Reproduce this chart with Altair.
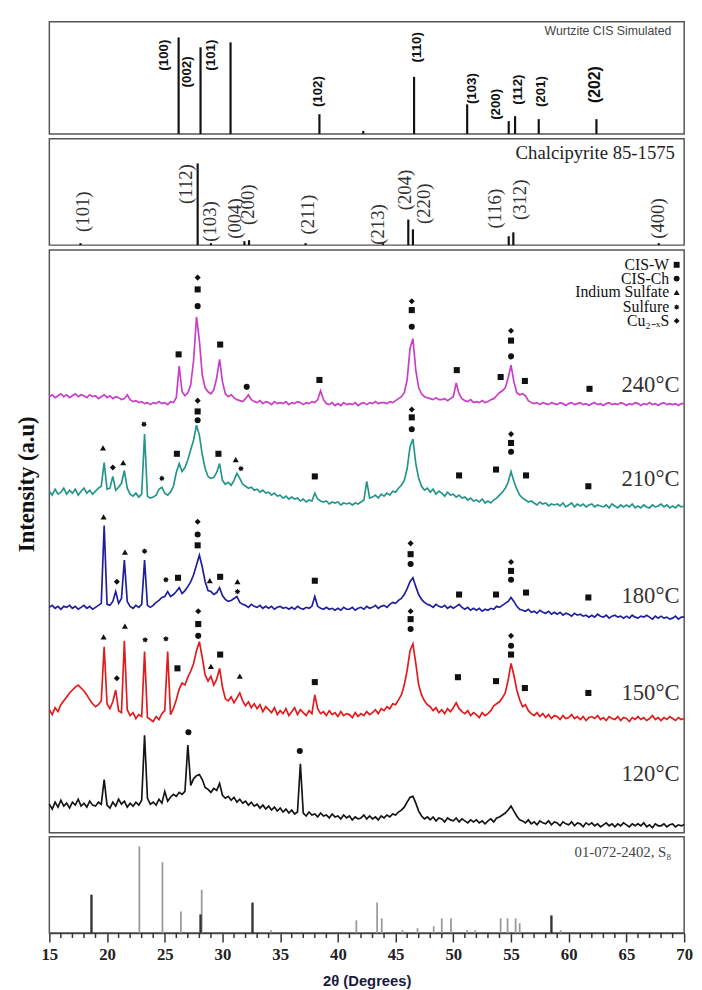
import altair as alt
import pandas as pd

# ---------------- data ----------------
# sampling grid of the measured patterns (2-theta, degrees)
two_theta = [round(15 + 0.25 * i, 2) for i in range(221)]

c240 = [
    443, 445, 442, 444,  446, 443, 445, 442,  444, 446, 443, 445,  444, 442, 445, 443,  # 15-18
    444, 441, 443, 445,  442, 444, 441, 443,  442, 440, 441, 445,  440, 438, 439, 437,  # 19-22
    438, 436, 437, 435,  437, 436, 438, 436,  437, 435, 438, 437,  442, 474, 448, 444,  # 23-26
    447, 455, 480, 524,  500, 465, 452, 448,  446, 450, 462, 481,  458, 446, 443, 445,  # 27-30
    442, 440, 439, 438,  441, 445, 440, 438,  437, 439, 436, 438,  437, 435, 438, 436,  # 31-34
    437, 436, 438, 435,  437, 436, 438, 437,  435, 437, 436, 438,  437, 440, 449, 440,  # 35-38
    436, 435, 437, 434,  436, 434, 437, 435,  436, 435, 437, 434,  436, 437, 435, 437,  # 39-42
    436, 438, 436, 437,  437, 436, 438, 437,  439, 441, 443, 447,  460, 492, 502, 470,  # 43-46
    452, 446, 443, 442,  441, 440, 442, 440,  440, 441, 439, 441,  443, 457, 446, 441,  # 47-50
    439, 438, 440, 437,  438, 437, 439, 437,  438, 440, 441, 444,  447, 449, 452, 462,  # 51-54
    475, 458, 447, 445,  446, 444, 439, 437,  436, 437, 435, 437,  436, 435, 437, 436,  # 55-58
    435, 437, 436, 434,  436, 437, 435, 436,  437, 435, 436, 434,  436, 437, 435, 436,  # 59-62
    434, 436, 437, 435,  436, 435, 437, 436,  434, 436, 435, 437,  436, 434, 436, 435,  # 63-66
    437, 435, 436, 434,  436, 437, 435, 436,  435, 436, 434, 436,  436]                  # 67-70

c210 = [
    347, 343, 349, 344,  346, 350, 344, 348,  345, 349, 343, 347,  350, 345, 348, 344,  # 15-18
    347, 350, 352, 376,  349, 350, 362, 348,  351, 355, 368, 350,  344, 342, 345, 341,  # 19-22
    344, 405, 342, 340,  341, 343, 349, 351,  345, 343, 346, 352,  366, 375, 367, 371,  # 23-26
    379, 389, 399, 414,  404, 384, 370, 362,  360, 361, 366, 375,  358, 354, 356, 353,  # 27-30
    358, 365, 360, 354,  352, 350, 351, 348,  349, 346, 348, 345,  346, 343, 345, 342,  # 31-34
    343, 340, 342, 339,  341, 339, 340, 337,  339, 336, 338, 337,  345, 339, 337, 336,  # 35-38
    337, 334, 336, 335,  336, 333, 335, 334,  335, 333, 335, 334,  336, 338, 357, 340,  # 39-42
    341, 343, 340, 344,  342, 345, 343, 347,  346, 350, 353, 358,  370, 392, 400, 375,  # 43-46
    360, 352, 348, 350,  346, 349, 344, 347,  345, 342, 346, 343,  344, 341, 343, 340,  # 47-50
    341, 338, 340, 337,  338, 336, 339, 335,  337, 335, 338, 340,  343, 346, 350, 356,  # 51-54
    367, 357, 349, 343,  340, 338, 336, 337,  335, 333, 336, 334,  335, 332, 334, 333,  # 55-58
    334, 332, 335, 331,  333, 335, 331, 334,  332, 334, 331, 333,  334, 331, 333, 332,  # 59-62
    331, 333, 330, 334,  332, 330, 333, 331,  333, 331, 334, 330,  332, 330, 333, 331,  # 63-66
    330, 333, 331, 332,  334, 331, 333, 330,  332, 330, 333, 331,  332]                  # 67-70

c180 = [
    229, 231, 228, 230,  227, 230, 229, 231,  228, 230, 227, 229,  231, 228, 230, 227,  # 15-18
    229, 231, 233, 312,  232, 231, 235, 245,  233, 238, 277, 235,  230, 228, 231, 229,  # 19-22
    232, 277, 231, 229,  231, 234, 236, 239,  240, 245, 240, 242,  245, 249, 243, 246,  # 23-26
    250, 255, 262, 272,  282, 270, 255, 246,  245, 242, 244, 249,  241, 237, 235, 236,  # 27-30
    238, 240, 234, 232,  231, 229, 232, 230,  229, 231, 228, 230,  228, 230, 227, 229,  # 31-34
    230, 228, 229, 227,  229, 227, 230, 228,  227, 229, 228, 230,  240, 230, 228, 227,  # 35-38
    229, 227, 228, 226,  228, 226, 229, 227,  227, 229, 226, 228,  229, 227, 230, 228,  # 39-42
    229, 231, 228, 230,  231, 229, 232, 234,  233, 236, 238, 242,  248, 255, 259, 250,  # 43-46
    242, 237, 234, 232,  231, 229, 232, 230,  229, 231, 228, 230,  228, 230, 232, 229,  # 47-50
    227, 229, 226, 228,  226, 228, 225, 227,  226, 228, 227, 230,  229, 231, 233, 235,  # 51-54
    239, 235, 230, 227,  226, 225, 227, 224,  225, 223, 226, 224,  223, 225, 222, 224,  # 55-58
    222, 224, 221, 223,  222, 220, 223, 221,  222, 220, 221, 219,  221, 219, 222, 220,  # 59-62
    219, 221, 218, 220,  221, 219, 220, 218,  220, 218, 221, 219,  218, 220, 219, 221,  # 63-66
    219, 217, 220, 218,  220, 218, 219, 217,  218, 220, 217, 219,  219]                  # 67-70

c150 = [
    125, 120, 127, 123,  130, 134, 138, 142,  145, 148, 150, 147,  144, 140, 135, 131,  # 15-18
    128, 130, 134, 189,  131, 126, 133, 145,  124, 122, 195, 125,  119, 122, 116, 120,  # 19-22
    118, 184, 117, 115,  113, 118, 115, 121,  124, 184, 120, 126,  135, 146, 152, 150,  # 23-26
    158, 164, 172, 185,  194, 178, 160, 154,  159, 150, 156, 167,  148, 136, 134, 138,  # 27-30
    132, 137, 142, 134,  129, 133, 127, 131,  126, 130, 123, 128,  125, 122, 127, 120,  # 31-34
    124, 121, 126, 119,  123, 127, 120, 125,  122, 119, 124, 121,  140, 126, 121, 123,  # 35-38
    119, 124, 120, 122,  118, 123, 119, 121,  120, 117, 122, 118,  121, 119, 123, 120,  # 39-42
    122, 125, 121, 126,  124, 128, 126, 131,  130, 135, 140, 150,  165, 185, 192, 172,  # 43-46
    150, 140, 134, 130,  128, 124, 127, 122,  125, 121, 126, 123,  127, 132, 126, 123,  # 47-50
    121, 124, 119, 122,  120, 117, 122, 119,  121, 124, 129, 131,  133, 137, 142, 155,  # 51-54
    172, 160, 145, 135,  128, 130, 124, 121,  119, 122, 118, 121,  117, 120, 116, 119,  # 55-58
    118, 115, 119, 116,  117, 120, 116, 118,  115, 118, 114, 117,  118, 116, 119, 115,  # 59-62
    117, 114, 118, 116,  115, 118, 114, 117,  116, 113, 117, 115,  118, 115, 117, 114,  # 63-66
    116, 119, 115, 117,  114, 117, 115, 118,  116, 114, 117, 115,  116]                  # 67-70

c120 = [
    29, 24, 31, 26,  33, 27, 30, 25,  31, 28, 34, 27,  30, 26, 32, 28,  # 15-18
    27, 31, 29, 54,  28, 25, 31, 27,  34, 29, 32, 26,  30, 27, 31, 28,  # 19-22
    33, 99, 35, 29,  31, 28, 34, 30,  42, 32, 36, 39,  37, 41, 39, 42,  # 23-26
    89, 48, 55, 58,  59, 54, 46, 44,  41, 45, 43, 50,  38, 35, 37, 33,  # 27-30
    36, 31, 34, 30,  32, 28, 31, 27,  29, 25, 28, 24,  27, 23, 26, 22,  # 31-34
    25, 21, 24, 20,  23, 19, 21, 70,  20, 17, 21, 18,  19, 16, 20, 17,  # 35-38
    18, 15, 19, 16,  17, 14, 18, 15,  17, 13, 16, 14,  15, 18, 14, 17,  # 39-42
    14, 16, 13, 17,  15, 18, 16, 19,  18, 21, 23, 26,  31, 36, 37, 30,  # 43-46
    22, 17, 14, 16,  13, 16, 12, 15,  14, 11, 15, 13,  12, 15, 11, 14,  # 47-50
    12, 10, 13, 11,  13, 10, 12, 9,   12, 14, 11, 15,  16, 18, 20, 23,  # 51-54
    27, 22, 17, 13,  12, 10, 13, 9,   11, 8, 12, 10,   9, 12, 8, 11,    # 55-58
    10, 7, 11, 9,    8, 11, 7, 10,    9, 6, 10, 8,     10, 7, 9, 6,     # 59-62
    8, 10, 7, 9,     6, 9, 7, 10,     8, 6, 9, 7,      9, 7, 10, 6,     # 63-66
    8, 5, 9, 7,      7, 9, 6, 8,      9, 6, 8, 7,      8]               # 67-70

samples = ["240°C", "210°C", "180°C", "150°C", "120°C"]
sample_colors = ["#C93CC9", "#23958B", "#1E1E9E", "#E11A1C", "#141414"]
sample_label_int = [455, 359, 240, 142, 60]

# Wurtzite CIS simulated sticks
wz_pos = [26.2, 28.1, 30.7, 38.4, 42.2, 46.6, 51.2, 54.8, 55.35, 57.4, 62.4]
wz_int = [98, 88, 93, 20, 3, 58, 30, 13, 18, 15, 15]
wz_lab_text = ["(100)", "(002)", "(101)", "(102)", "(110)", "(103)", "(200)", "(112)", "(201)", "(202)"]
wz_lab_x = [24.96, 26.91, 29.04, 38.32, 46.83, 51.6, 53.72, 55.6, 57.64, 62.32]
wz_lab_y = [80, 63, 80, 43, 88, 46, 30, 45, 43, 50]

# Chalcopyrite 85-1575 sticks
ch_pos = [17.7, 27.85, 29.0, 31.9, 32.3, 37.2, 43.9, 46.1, 46.5, 54.8, 55.2, 67.8]
ch_int = [2, 83, 2, 4, 5, 2, 2, 26, 16, 9, 13, 2]
ch_lab_text = ["(101)", "(112)", "(103)", "(004)", "(200)", "(211)", "(213)", "(204)", "(220)", "(116)", "(312)", "(400)"]
ch_lab_x = [17.89, 26.83, 28.96, 31.09, 32.19, 37.38, 43.51, 45.81, 47.51, 53.64, 55.77, 67.77]
ch_lab_y = [34, 62, 24, 27, 41, 31, 21, 56, 42, 37, 46, 27]

# S8 reference 01-072-2402
s8_pos = [18.65, 28.1, 58.5, 32.6, 22.8, 24.8, 26.4, 28.2, 34.2, 41.6, 43.4, 43.8, 45.6, 46.9,
          48.3, 49.0, 49.8, 51.2, 51.9, 54.1, 54.7, 55.4, 55.75, 59.3]
s8_int = [39, 19, 18, 31, 88, 72, 22, 44, 3, 13, 31, 15, 3, 5, 7, 15, 15, 3, 3, 15, 15, 15, 10, 3]
s8_tone = ["dark", "dark", "dark", "dark"] + ["light"] * 20

# x ticks: labelled every 5 degrees, short ticks every degree
major_ticks = list(range(15, 71, 5))
minor_ticks = [v for v in range(15, 71) if v % 5 != 0]

# phase markers
phases = ["W", "Ch", "In", "S", "Cu"]
phase_names = ["CIS-W", "CIS-Ch", "Indium Sulfate", "Sulfure", "Cu₂₋ₓS"]
legend_int = [577, 563, 549, 534, 520]

mk_theta = [
    26.2, 27.85, 27.85, 27.85, 29.8, 32.1, 38.4, 46.4, 46.4, 46.4, 50.3, 54.1, 55.0, 55.0, 55.0, 56.2, 61.8,
    19.65, 20.5, 21.4, 23.2, 24.75, 26.05, 27.85, 27.85, 27.85, 29.65, 31.15, 31.6, 38.0, 46.4, 46.4, 46.4,
    50.5, 53.7, 55.0, 55.0, 55.0, 56.3, 61.7,
    19.7, 20.85, 21.55, 23.25, 25.1, 26.15, 27.85, 27.85, 27.85, 28.9, 29.8, 31.3, 31.3, 38.0, 46.3, 46.3, 46.3,
    50.5, 53.7, 55.0, 55.0, 55.0, 56.3, 61.7,
    19.7, 20.85, 21.55, 23.3, 25.1, 26.1, 27.9, 27.9, 27.9, 29.0, 29.8, 31.5, 38.0, 46.3, 46.3, 46.3,
    50.4, 53.7, 55.0, 55.0, 55.0, 56.2, 61.7,
    27.05, 36.7]
mk_int = [
    486, 564, 552, 535, 496, 453, 460, 540, 531, 514, 470, 463, 510, 500, 484, 459, 451,
    391, 371, 376, 415, 360, 385, 439, 428, 419, 385, 379, 370, 362, 430, 422, 410,
    363, 369, 405, 396, 387, 363, 352,
    321, 255, 285, 286, 257, 259, 316, 303, 292, 256, 260, 255, 245, 256, 294, 283, 273,
    242, 242, 275, 266, 257, 244, 239,
    199, 157, 210, 196, 197, 167, 225, 212, 200, 169, 181, 159, 153, 225, 217, 207,
    158, 154, 200, 190, 181, 147, 142,
    102, 83]
mk_phase = [
    "W", "Cu", "W", "Ch", "W", "Ch", "W", "Cu", "W", "Ch", "W", "W", "Cu", "W", "Ch", "W", "W",
    "In", "Cu", "In", "S", "S", "W", "Cu", "W", "Ch", "W", "In", "S", "W", "Cu", "W", "Ch",
    "W", "W", "Cu", "W", "Ch", "W", "W",
    "In", "Cu", "In", "S", "S", "W", "Cu", "Ch", "W", "In", "W", "In", "S", "W", "Cu", "W", "Ch",
    "W", "W", "Cu", "W", "Ch", "W", "W",
    "In", "Cu", "In", "S", "S", "W", "Cu", "W", "Ch", "In", "W", "In", "W", "Cu", "W", "Ch",
    "W", "W", "Cu", "Ch", "W", "W", "W",
    "Ch", "Ch"]

# ---------------- tables ----------------
rows = []
for name, vals in zip(samples, [c240, c210, c180, c150, c120]):
    assert len(vals) == len(two_theta), (name, len(vals))
    for t, v in zip(two_theta, vals):
        rows.append({"theta": t, "intensity": v, "sample": name})
curves_df = pd.DataFrame(rows)
assert len(mk_theta) == len(mk_int) == len(mk_phase)
mk_df = pd.DataFrame({"theta": mk_theta, "intensity": mk_int, "phase": mk_phase})
leg_df = pd.DataFrame({"phase": phases, "name": phase_names, "intensity": legend_int})
tl_df = pd.DataFrame({"sample": samples, "intensity": sample_label_int})
wz_df = pd.DataFrame({"theta": wz_pos, "h": wz_int})
wzl_df = pd.DataFrame({"theta": wz_lab_x, "h": wz_lab_y, "text": wz_lab_text})
ch_df = pd.DataFrame({"theta": ch_pos, "h": ch_int})
chl_df = pd.DataFrame({"theta": ch_lab_x, "h": ch_lab_y, "text": ch_lab_text})
s8_df = pd.DataFrame({"theta": s8_pos, "h": s8_int, "tone": s8_tone})
minor_df = pd.DataFrame({"theta": minor_ticks})

# ---------------- chart ----------------
W = 645
H1, H2, HM, H4 = 114, 108, 592, 98
xs = alt.Scale(domain=[15, 70], nice=False, zero=False)
star = ("M0,-1L0.23,-0.55L0.71,-0.71L0.55,-0.23L1,0L0.55,0.23L0.71,0.71L0.23,0.55L0,1"
        "L-0.23,0.55L-0.71,0.71L-0.55,0.23L-1,0L-0.55,-0.23L-0.71,-0.71L-0.23,-0.55Z")
shape_scale = alt.Scale(domain=phases, range=["square", "circle", "triangle-up", star, "diamond"])


def xf(field="theta"):
    return alt.X(f"{field}:Q", scale=xs, axis=None)


def xd(v):
    return alt.XDatum(v, axis=None)


def yd(v):
    return alt.YDatum(v, axis=None)


# panel 1: wurtzite
y1 = alt.Scale(domain=[0, H1], nice=False, zero=False)
p1 = alt.layer(
    alt.Chart(wz_df).mark_rule(color="#111", strokeWidth=2.2).encode(
        x=xf(), y=alt.Y("h:Q", scale=y1, axis=None), y2=alt.datum(0)),
    alt.Chart(wzl_df).mark_text(angle=270, font="Liberation Sans", fontWeight="bold",
                                color="#111", align="center", baseline="middle").encode(
        x=xf(), y=alt.Y("h:Q", scale=y1, axis=None), text="text:N",
        size=alt.condition(alt.datum.text == "(202)", alt.value(16), alt.value(13.5))),
    alt.Chart(pd.DataFrame({"t": ["Wurtzite CIS Simulated"]})).mark_text(
        align="right", baseline="middle", font="Liberation Sans", fontSize=12.5, color="#444").encode(
        x=xd(68.9), y=yd(104), text="t:N"),
).properties(width=W, height=H1)

# panel 2: chalcopyrite
y2s = alt.Scale(domain=[0, H2], nice=False, zero=False)
p2 = alt.layer(
    alt.Chart(ch_df).mark_rule(color="#111", strokeWidth=2.2).encode(
        x=xf(), y=alt.Y("h:Q", scale=y2s, axis=None), y2=alt.datum(0)),
    alt.Chart(chl_df).mark_text(angle=270, font="Liberation Serif", fontSize=19,
                                color="#333", align="center", baseline="middle").encode(
        x=xf(), y=alt.Y("h:Q", scale=y2s, axis=None), text="text:N"),
    alt.Chart(pd.DataFrame({"t": ["Chalcipyrite 85-1575"]})).mark_text(
        align="right", baseline="middle", font="Liberation Serif", fontSize=19, color="#222").encode(
        x=xd(69.2), y=yd(94), text="t:N"),
).properties(width=W, height=H2)

# main panel
ym = alt.Scale(domain=[0, HM], nice=False, zero=False)
lines = alt.Chart(curves_df).mark_line(strokeWidth=1.7).encode(
    x=xf(), y=alt.Y("intensity:Q", scale=ym, axis=None),
    color=alt.Color("sample:N", scale=alt.Scale(domain=samples, range=sample_colors), legend=None),
    detail="sample:N")
markers = alt.Chart(mk_df).mark_point(filled=True, size=38, color="#111", opacity=1).encode(
    x=xf(), y=alt.Y("intensity:Q", scale=ym, axis=None),
    shape=alt.Shape("phase:N", scale=shape_scale, legend=None))
leg_text = alt.Chart(leg_df).mark_text(align="right", baseline="middle", font="Liberation Serif",
                                       fontSize=16, color="#111").encode(
    x=xd(68.7), y=alt.Y("intensity:Q", scale=ym, axis=None), text="name:N")
leg_sym = alt.Chart(leg_df).mark_point(filled=True, size=36, color="#111", opacity=1).encode(
    x=xd(69.35), y=alt.Y("intensity:Q", scale=ym, axis=None),
    shape=alt.Shape("phase:N", scale=shape_scale, legend=None))
temp_text = alt.Chart(tl_df).mark_text(align="right", baseline="middle", font="Liberation Serif",
                                       fontSize=23, color="#333").encode(
    x=xd(69.6), y=alt.Y("intensity:Q", scale=ym, axis=None), text="sample:N")
y_title = alt.Chart(pd.DataFrame({"t": ["Intensity (a.u)"]})).mark_text(
    angle=270, align="center", baseline="middle", font="Liberation Serif", fontSize=23,
    fontWeight="bold", color="#111").encode(x=xd(13.04), y=yd(354), text="t:N")
pm = alt.layer(lines, markers, leg_text, leg_sym, temp_text, y_title).properties(width=W, height=HM)

# bottom panel: S8 reference with the x axis
y4 = alt.Scale(domain=[0, H4], nice=False, zero=False)
x_axis = alt.Axis(values=major_ticks, orient="bottom", grid=False, format="d",
                  tickSize=9, tickWidth=1.5, tickColor="#333",
                  domain=True, domainColor="#444", domainWidth=1.5,
                  labelOverlap=False, labelFont="Liberation Serif", labelFontWeight="bold",
                  labelFontSize=17, labelColor="#222", labelPadding=5, labelFlush=False,
                  title="2θ (Degrees)", titleFont="Liberation Sans", titleFontSize=15,
                  titleFontWeight="bold", titleColor="#1a1a3a", titlePadding=11)
xb = alt.X("theta:Q", scale=xs, axis=x_axis)
p4 = alt.layer(
    alt.Chart(s8_df).transform_filter(alt.datum.tone == "light").mark_rule(
        color="#9a9a9a", strokeWidth=1.8).encode(
        x=xb, y=alt.Y("h:Q", scale=y4, axis=None), y2=alt.datum(0)),
    alt.Chart(s8_df).transform_filter(alt.datum.tone == "dark").mark_rule(
        color="#333", strokeWidth=2.4).encode(
        x=xb, y=alt.Y("h:Q", scale=y4, axis=None), y2=alt.datum(0)),
    alt.Chart(minor_df).mark_rule(color="#333", strokeWidth=1.5).encode(
        x=xb, y=yd(0), y2=alt.datum(-5)),
    alt.Chart(pd.DataFrame({"theta": [68.9], "t": ["01-072-2402, S₈"]})).mark_text(
        align="right", baseline="middle", font="Liberation Serif", fontSize=15, color="#444").encode(
        x=xb, y=yd(82), text="t:N"),
).properties(width=W, height=H4)

chart = alt.vconcat(p1, p2, pm, p4, spacing=2).properties(
    padding={"left": 7, "top": 5, "right": 0, "bottom": 0}, background="white"
).configure_view(stroke="#555", strokeWidth=1.5).configure_axis(
    labelFont="Liberation Serif", labelFontWeight="bold", labelFontSize=17, labelColor="#222")

chart.save("out.html", embed_options={"renderer": "svg", "actions": False})
